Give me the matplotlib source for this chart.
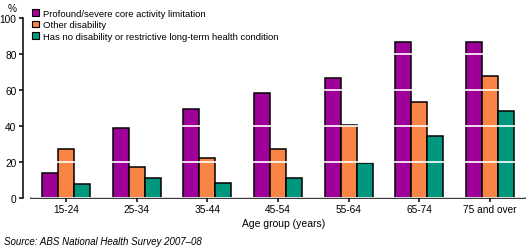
import matplotlib
matplotlib.use('Agg')
import matplotlib.pyplot as plt
import numpy as np

plt.rcParams['font.family'] = ['Liberation Sans', 'DejaVu Sans']

groups = ['15-24', '25-34', '35-44', '45-54', '55-64', '65-74', '75 and over']
profound = [13.7, 38.7, 49.3, 58.3, 66.7, 86.5, 86.5]
other = [27.0, 17.0, 22.0, 27.0, 40.4, 53.2, 67.6]
no_dis = [7.6, 11.0, 8.2, 11.0, 19.3, 34.3, 48.2]
series_names = ['Profound/severe core activity limitation',
                'Other disability',
                'Has no disability or restrictive long-term health condition']
colours = ['#A0009A', '#F88445', '#00977F']

W, H = 529, 253
fig = plt.figure(figsize=(W / 100, H / 100), dpi=100)
ax = fig.add_axes([31 / W, 1 - 199 / H, (525 - 31) / W, (199 - 19) / H])

x = np.arange(len(groups))
width = 0.227
for i, (vals, name, col) in enumerate(zip([profound, other, no_dis], series_names, colours)):
    ax.bar(x + (i - 1) * width, vals, width, color=col, edgecolor='black',
           linewidth=1.1, label=name, zorder=2)

ax.set_xlim(-0.5, len(groups) - 0.5)
ax.set_ylim(0, 100)
ax.set_yticks([0, 20, 40, 60, 80, 100])
ax.set_xticks(x)
ax.set_xticklabels(groups)
# white gridlines drawn over the bars
ax.yaxis.grid(True, color='white', linewidth=1.2, zorder=3)
ax.set_axisbelow(False)

for s in ['top', 'right']:
    ax.spines[s].set_visible(False)
ax.spines['left'].set_position(('outward', 6))
ax.spines['left'].set_linewidth(1.1)
ax.spines['bottom'].set_linewidth(1.1)
ax.tick_params(axis='both', labelsize=7.3, length=3, width=1.1, pad=1.5)

fig.text(12 / W, 1 - 9 / H, '%', fontsize=7.3, ha='center', va='center')
fig.text(284 / W, 1 - 224 / H, 'Age group (years)', fontsize=7.5, ha='center', va='center')
fig.text(4 / W, 1 - 242 / H, 'Source: ABS National Health Survey 2007\u201308',
         fontsize=7, style='italic', ha='left', va='center')

leg = ax.legend(loc='upper left', bbox_to_anchor=(32 / W, 1 - 10 / H),
                bbox_transform=fig.transFigure, frameon=False, fontsize=6.8,
                handlelength=0.7, handleheight=0.7, handletextpad=0.5,
                labelspacing=0.25, borderaxespad=0, borderpad=0)
for h in leg.legend_handles:
    h.set_linewidth(0.8)

fig.savefig('out.png', dpi=100)
